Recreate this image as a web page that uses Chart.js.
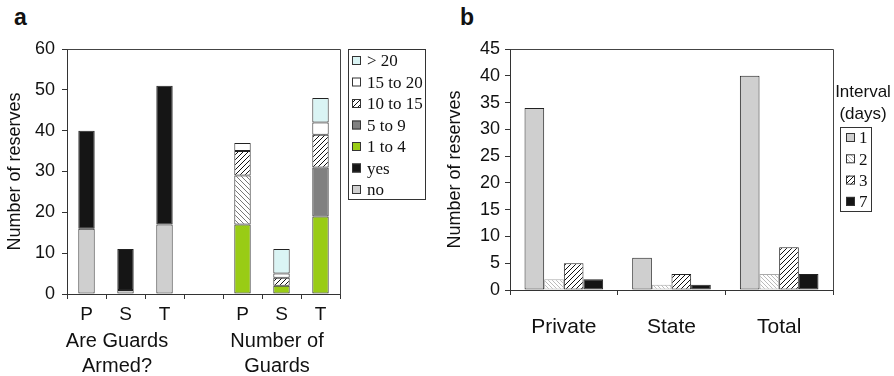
<!DOCTYPE html>
<html lang="en">
<head>
  <meta charset="UTF-8">
  <title>Guards and patrol intervals</title>
  <script src="https://cdn.jsdelivr.net/npm/chart.js"></script>
  <style>
    body { margin: 0; background: #fff; width: 894px; height: 376px; overflow: hidden; position: relative; }
    canvas { position: absolute; top: 0; }
    #chart-a { left: 0; }
    #chart-b { left: 440px; }
    .panel { position: absolute; font: bold 23px "Liberation Sans", Arial, sans-serif; color: #111; }
  </style>
</head>
<body>
  <div class="panel" style="left:14px; top:4px;">a</div>
  <div class="panel" style="left:460px; top:4px;">b</div>
  <canvas id="chart-a" width="440" height="376"></canvas>
  <canvas id="chart-b" width="454" height="376"></canvas>

  <script>
    // Panel a: armed guards / number of guards (P = private, S = state, T = total)
    const guardCats = ["P", "S", "T", "", "P", "S", "T"];
    const armedNo = [16, 1, 17, null, null, null, null];
    const armedYes = [24, 10, 34, null, null, null, null];
    const guards1to4 = [null, null, null, null, 17, 2, 19];
    const guards5to9 = [null, null, null, null, 12, null, 12];
    const guards10to15 = [null, null, null, null, 6, 2, 8];
    const guards15to20 = [null, null, null, null, 2, 1, 3];
    const guardsOver20 = [null, null, null, null, null, 6, 6];

    // Panel b: patrol interval (days)
    const ownerCats = ["Private", "State", "Total"];
    const interval1 = [34, 6, 40];
    const interval2 = [2, 1, 3];
    const interval3 = [5, 3, 8];
    const interval7 = [2, 1, 3];

    const SANS = '"Liberation Sans", Arial, sans-serif';
    const SERIF = '"Liberation Serif", "Times New Roman", serif';
    const INK = "#111";

    function hatch(ctx, dir, line, bg, size) {
      const c = document.createElement("canvas");
      c.width = c.height = size;
      const x = c.getContext("2d");
      x.fillStyle = bg;
      x.fillRect(0, 0, size, size);
      x.strokeStyle = line;
      x.lineWidth = 1;
      x.beginPath();
      if (dir === "/") {
        x.moveTo(0, size); x.lineTo(size, 0);
        x.moveTo(-1, 1); x.lineTo(1, -1);
        x.moveTo(size - 1, size + 1); x.lineTo(size + 1, size - 1);
      } else {
        x.moveTo(0, 0); x.lineTo(size, size);
        x.moveTo(size - 1, -1); x.lineTo(size + 1, 1);
        x.moveTo(-1, size - 1); x.lineTo(1, size + 1);
      }
      x.stroke();
      return ctx.createPattern(c, "repeat");
    }

    // frame round the plot area + custom boxed legend + loose texts
    const framePlugin = {
      id: "frame",
      afterDraw(chart, args, opts) {
        const ctx = chart.ctx, a = chart.chartArea;
        ctx.save();
        ctx.strokeStyle = "#444";
        ctx.lineWidth = 1;
        ctx.beginPath();
        ctx.moveTo(Math.round(a.left) + 0.5, Math.round(a.top) + 0.5);
        ctx.lineTo(Math.round(a.right) + 0.5, Math.round(a.top) + 0.5);
        ctx.lineTo(Math.round(a.right) + 0.5, Math.round(a.bottom) + 0.5);
        ctx.stroke();

        const lg = opts.legend;
        if (lg) {
          ctx.strokeStyle = "#333";
          ctx.strokeRect(lg.x + 0.5, lg.y + 0.5, lg.w, lg.h);
          ctx.font = lg.size + "px " + SERIF;
          ctx.textBaseline = "middle";
          let sets = chart.data.datasets.slice();
          if (lg.reverse) sets.reverse();
          sets.forEach((ds, i) => {
            const cy = lg.firstY + i * lg.step;
            ctx.fillStyle = ds.swatch || ds.backgroundColor;
            ctx.fillRect(lg.x + lg.sx, cy - 5, 9, 9);
            ctx.strokeStyle = "#333";
            ctx.strokeRect(lg.x + lg.sx + 0.5, cy - 4.5, 8, 8);
            ctx.fillStyle = INK;
            ctx.fillText(ds.label, lg.x + lg.tx, cy + 1);
          });
        }
        if (opts.texts) {
          ctx.fillStyle = INK;
          ctx.textAlign = "center";
          ctx.textBaseline = "alphabetic";
          opts.texts.forEach(t => {
            ctx.font = t.font;
            ctx.fillText(t.text, t.x, t.y);
          });
        }
        ctx.restore();
      }
    };

    function axisY(min, max, step, width, pad) {
      return {
        min: min, max: max, stacked: true,
        afterFit(s) { s.width = width; },
        grid: { drawOnChartArea: false, tickLength: 5, color: "#333" },
        border: { display: true, color: "#333" },
        ticks: { stepSize: step, color: INK, padding: pad, font: { family: SANS, size: 18 } },
        title: { display: true, text: "Number of reserves", color: INK, padding: { top: 4, bottom: 4 },
                 font: { family: SANS, size: 18 } }
      };
    }

    // ---------- panel a ----------
    const ctxA = document.getElementById("chart-a").getContext("2d");
    const fwdA = hatch(ctxA, "/", "#111", "#fff", 5);
    const backA = hatch(ctxA, "\\", "#777", "#fff", 5);
    const barA = { borderColor: "#222", borderWidth: 1, borderSkipped: false, barPercentage: 0.42, categoryPercentage: 1 };

    new Chart(ctxA, {
      type: "bar",
      data: {
        labels: guardCats,
        datasets: [
          { label: "no", data: armedNo, backgroundColor: "#cfcfcf", ...barA },
          { label: "yes", data: armedYes, backgroundColor: "#151515", ...barA },
          { label: "1 to 4", data: guards1to4, backgroundColor: "#99cc15", ...barA },
          { label: "5 to 9", data: guards5to9, backgroundColor: ["#808080", "#808080", "#808080", "#808080", backA, "#808080", "#808080"], swatch: "#808080", ...barA },
          { label: "10 to 15", data: guards10to15, backgroundColor: fwdA, ...barA },
          { label: "15 to 20", data: guards15to20, backgroundColor: "#ffffff", ...barA },
          { label: "> 20", data: guardsOver20, backgroundColor: "#daf4f4", ...barA }
        ]
      },
      options: {
        responsive: false, animation: false, devicePixelRatio: 1,
        layout: { padding: { left: 0, right: 100, top: 49, bottom: 0 } },
        plugins: {
          legend: { display: false }, tooltip: { enabled: false },
          frame: {
            legend: { x: 348, y: 49, w: 77, h: 150, firstY: 61, step: 21.5, sx: 4, tx: 19, size: 17, reverse: true },
            texts: [
              { text: "Are Guards", x: 117, y: 347, font: "20px " + SANS },
              { text: "Armed?", x: 117, y: 372, font: "20px " + SANS },
              { text: "Number of", x: 277, y: 347, font: "20px " + SANS },
              { text: "Guards", x: 277, y: 372, font: "20px " + SANS }
            ]
          }
        },
        scales: {
          x: {
            stacked: true,
            afterFit(s) { s.height = 82; },
            grid: { drawOnChartArea: false, tickLength: 5, color: "#333", offset: true },
            border: { display: true, color: "#333" },
            ticks: { color: INK, padding: 4, font: { family: SANS, size: 19 } }
          },
          y: axisY(0, 60, 10, 67, 7)
        }
      },
      plugins: [framePlugin]
    });

    // ---------- panel b ----------
    const ctxB = document.getElementById("chart-b").getContext("2d");
    const fwdB = hatch(ctxB, "/", "#111", "#fff", 5);
    const backB = hatch(ctxB, "\\", "#bbb", "#fff", 4);
    const barB = { borderWidth: 1, borderSkipped: false, barPercentage: 1, categoryPercentage: 0.73 };

    new Chart(ctxB, {
      type: "bar",
      data: {
        labels: ownerCats,
        datasets: [
          { label: "1", data: interval1, backgroundColor: "#cfcfcf", borderColor: "#222", ...barB },
          { label: "2", data: interval2, backgroundColor: backB, borderColor: "#aaa", ...barB },
          { label: "3", data: interval3, backgroundColor: fwdB, borderColor: "#222", ...barB },
          { label: "7", data: interval7, backgroundColor: "#151515", borderColor: "#222", ...barB }
        ]
      },
      options: {
        responsive: false, animation: false, devicePixelRatio: 1,
        layout: { padding: { left: 0, right: 61, top: 49, bottom: 0 } },
        plugins: {
          legend: { display: false }, tooltip: { enabled: false },
          frame: {
            legend: { x: 400, y: 127, w: 31, h: 84, firstY: 138, step: 21.3, sx: 6, tx: 19, size: 17, reverse: false },
            texts: [
              { text: "Interval", x: 423, y: 97, font: "17px " + SANS },
              { text: "(days)", x: 423, y: 119, font: "17px " + SANS }
            ]
          }
        },
        scales: {
          x: {
            afterFit(s) { s.height = 86; },
            grid: { drawOnChartArea: false, tickLength: 5, color: "#333", offset: true },
            border: { display: true, color: "#333" },
            ticks: { color: INK, padding: 20, font: { family: SANS, size: 21 } }
          },
          y: { ...axisY(0, 45, 5, 70, 5), stacked: false }
        }
      },
      plugins: [framePlugin]
    });
  </script>
</body>
</html>
